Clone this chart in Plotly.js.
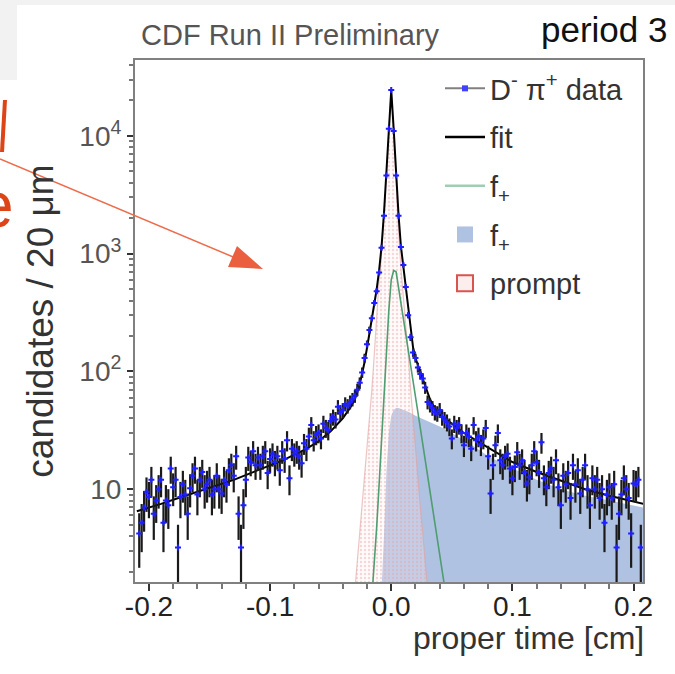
<!DOCTYPE html>
<html>
<head>
<meta charset="utf-8">
<script src="https://cdn.plot.ly/plotly-3.0.1.min.js"></script>
<style>
html,body{margin:0;padding:0;background:#ffffff;}
#chart{width:675px;height:674px;}
</style>
</head>
<body>
<div id="chart"></div>
<script>
// ---- data: proper-time bins (cm) and candidates per 20 um ----
const binCenters = [
-0.208,-0.206,-0.204,-0.202,-0.200,-0.198,-0.196,-0.194,-0.192,-0.190,
-0.188,-0.186,-0.184,-0.182,-0.180,-0.178,-0.176,-0.174,-0.172,-0.170,
-0.168,-0.166,-0.164,-0.162,-0.160,-0.158,-0.156,-0.154,-0.152,-0.150,
-0.148,-0.146,-0.144,-0.142,-0.140,-0.138,-0.136,-0.134,-0.132,-0.130,
-0.128,-0.126,-0.124,-0.122,-0.120,-0.118,-0.116,-0.114,-0.112,-0.110,
-0.108,-0.106,-0.104,-0.102,-0.100,-0.098,-0.096,-0.094,-0.092,-0.090,
-0.088,-0.086,-0.084,-0.082,-0.080,-0.078,-0.076,-0.074,-0.072,-0.070,
-0.068,-0.066,-0.064,-0.062,-0.060,-0.058,-0.056,-0.054,-0.052,-0.050,
-0.048,-0.046,-0.044,-0.042,-0.040,-0.038,-0.036,-0.034,-0.032,-0.030,
-0.028,-0.026,-0.024,-0.022,-0.020,-0.018,-0.016,-0.014,-0.012,-0.010,
-0.008,-0.006,-0.004,-0.002,0.000,0.002,0.004,0.006,0.008,0.010,
0.012,0.014,0.016,0.018,0.020,0.022,0.024,0.026,0.028,0.030,
0.032,0.034,0.036,0.038,0.040,0.042,0.044,0.046,0.048,0.050,
0.052,0.054,0.056,0.058,0.060,0.062,0.064,0.066,0.068,0.070,
0.072,0.074,0.076,0.078,0.080,0.082,0.084,0.086,0.088,0.090,
0.092,0.094,0.096,0.098,0.100,0.102,0.104,0.106,0.108,0.110,
0.112,0.114,0.116,0.118,0.120,0.122,0.124,0.126,0.128,0.130,
0.132,0.134,0.136,0.138,0.140,0.142,0.144,0.146,0.148,0.150,
0.152,0.154,0.156,0.158,0.160,0.162,0.164,0.166,0.168,0.170,
0.172,0.174,0.176,0.178,0.180,0.182,0.184,0.186,0.188,0.190,
0.192,0.194,0.196,0.198,0.200,0.202,0.204,0.206
];
const counts = [
4.2,5.2,7.0,9.5,8.6,12,6.2,8,10,12,
5.2,8,7.3,15,10.4,12,3.2,8.6,11,9,
6.2,10.2,13,15,9,12,14,10,11,12,
9,10,13,10,9.2,12,11,14.5,16,13,
19,6.2,3.2,7.3,12,18.6,17,21,16,18.6,
16,19,21,13.7,18,20,17,19,14.5,21,
18,26,12.4,22,20,21,19,16.6,24.5,22,
28,35,26,29,30,27,36,33,31.6,38,
41,39,50,45,47,53,51,55,58,62,
70,80,98,130,170,225,283,380,480,690,
1120,2100,4600,11500,24500,11000,4600,2100,1140,800,
520,300,195,145,130,108,95,87,73,55,
52,49,45,44,47,41,39,37,34,27,
36,33,35,30,23.6,30,28,22,35,26,
28,24,27,33,19,9.2,16,23.6,30,17.6,
16,19,20,15,12.4,15.4,20.6,16,17.6,14,
11.2,12.6,16,21,17,14,25,12.4,10.4,13.7,
15,12,17.6,10.4,7.3,13,11,13.7,8.4,16,
11,14.5,9.2,12,16,10,7.3,12.4,10,12,
8.4,10,5.2,9,10.4,8.4,11,3.2,6.2,9,
12.4,10,8.4,4.2,11.2,11,12,3.2
];

// total fit curve
const fitX = [-0.21,-0.19,-0.17,-0.15,-0.13,-0.11,-0.09,-0.07,-0.06,-0.05,-0.04,-0.034,-0.03,-0.026,-0.022,-0.018,-0.014,-0.012,-0.010,-0.008,-0.006,-0.004,-0.002,0.000,0.002,0.004,0.006,0.008,0.010,0.012,0.014,0.016,0.018,0.020,0.024,0.028,0.032,0.036,0.040,0.050,0.060,0.070,0.080,0.090,0.100,0.120,0.140,0.160,0.180,0.200,0.208];
const fitY = [6.5,7.5,8.8,10.2,12,14.5,17.5,22,25.5,31,40,49,58,78,120,210,370,500,720,1150,2200,4800,11500,24500,11500,4700,2150,1150,760,520,330,215,160,130,98,75,58,48,43,36,30,26,22.5,19.5,17,14,11.8,10,8.8,7.8,7.5];

// f+ (line component)
const fPlusLineX = [-0.016,-0.014,-0.012,-0.010,-0.008,-0.006,-0.004,-0.002,0.000,0.002,0.004,0.006,0.008,0.010,0.012,0.014,0.016,0.018,0.020,0.022,0.024,0.026,0.028,0.030,0.032,0.034,0.036,0.038,0.040,0.042,0.044,0.046];
const fPlusLineY = [1.2,2.3,4.8,11,27,65,150,330,600,720,700,520,390,290,215,160,120,88,62,45,33,24,18,13,9.6,7,5.1,3.7,2.7,2.0,1.5,1.1];

// f+ (filled component)
const fPlusFillX = [-0.010,-0.008,-0.006,-0.004,-0.002,0.000,0.002,0.004,0.006,0.008,0.010,0.015,0.020,0.030,0.040,0.050,0.060,0.070,0.080,0.090,0.100,0.120,0.140,0.160,0.180,0.200,0.208];
const fPlusFillY = [0.9,1.4,4,14,30,42,47,49,49,48,47,45,42,38,34,30,26,22.5,19,17,15,12,10,8.8,8,7.3,7.0];

// prompt component
const promptX = [-0.032,-0.030,-0.028,-0.026,-0.024,-0.022,-0.020,-0.018,-0.016,-0.014,-0.012,-0.010,-0.008,-0.006,-0.004,-0.002,0.000,0.002,0.004,0.006,0.008,0.010,0.012,0.014,0.016,0.018,0.020,0.022,0.024,0.026,0.028,0.030,0.032];
const promptY = [0.8,1.4,2.4,4.2,7,12,21,38,70,140,300,600,1000,2000,4400,11000,24000,11000,4000,1600,750,450,260,140,70,38,21,12,7,4.2,2.4,1.4,0.8];

const xTickVals = [-0.2,-0.1,0,0.1,0.2];
const xTickText = ['-0.2','-0.1','0.0','0.1','0.2'];
const yTickVals = [10,100,1000,10000];
const yTickText = ['10','10<sup>2</sup>','10<sup>3</sup>','10<sup>4</sup>'];
const legendNames = ['D<sup>-</sup> \u03c0<sup>+</sup> data','fit','f<sub>+</sub>','f<sub>+</sub>','prompt'];

// ---- layout helpers (pixel -> paper) ----
const M = {l:135, r:32, t:60, b:92};
const PW = 675 - M.l - M.r, PH = 674 - M.t - M.b;
const px2x = px => (px - M.l) / PW;
const py2y = py => 1 - (py - M.t) / PH;

const FONT = 'Liberation Sans, Arial, Helvetica, sans-serif';

const traces = [
  { // f+ filled
    x: fPlusFillX, y: fPlusFillY, type:'scatter', mode:'lines',
    fill:'tozeroy', fillcolor:'#b0c2e2', line:{width:0, color:'#b0c2e2'},
    showlegend:false, hoverinfo:'skip'
  },
  { // prompt
    x: promptX, y: promptY, type:'scatter', mode:'lines',
    fill:'tozeroy', fillcolor:'rgba(255,240,240,0.2)',
    fillpattern:{shape:'.', fgcolor:'rgba(232,160,160,0.4)', bgcolor:'rgba(255,240,240,0.25)', size:4, solidity:0.3},
    line:{color:'rgba(225,160,160,0.6)', width:1.2},
    showlegend:false, hoverinfo:'skip'
  },
  { // f+ line
    x: fPlusLineX, y: fPlusLineY, type:'scatter', mode:'lines',
    line:{color:'#4f9d70', width:1.6}, showlegend:false, hoverinfo:'skip'
  },
  { // fit
    x: fitX, y: fitY, type:'scatter', mode:'lines',
    line:{color:'#000000', width:2}, showlegend:false, hoverinfo:'skip'
  },
  { // data
    x: binCenters, y: counts, type:'scatter', mode:'markers',
    marker:{symbol:'cross', size:5, color:'#1e1eff'},
    error_y:{type:'sqrt', color:'#1a1a1a', thickness:2.2, width:0},
    showlegend:false, hoverinfo:'skip'
  },
  // legend entries
  { x:[null], y:[null], type:'scatter', mode:'lines+markers', name:legendNames[0], legendgroup:'a',
    line:{color:'#808080', width:2}, marker:{symbol:'square', size:6, color:'#4040ff'} },
  { x:[null], y:[null], type:'scatter', mode:'lines', name:legendNames[1], legendgroup:'b',
    line:{color:'#000000', width:2.5} },
  { x:[null], y:[null], type:'scatter', mode:'lines', name:legendNames[2], legendgroup:'c',
    line:{color:'#9fcdb3', width:2.5} },
  { x:[null], y:[null], type:'scatter', mode:'markers', name:legendNames[3], legendgroup:'d',
    marker:{symbol:'square', size:30, color:'#b0c2e2'} },
  { x:[null], y:[null], type:'scatter', mode:'markers', name:legendNames[4], legendgroup:'e',
    marker:{symbol:'square', size:30, color:'#fdeeee', line:{color:'#d9534f', width:2}} }
];

const layout = {
  width:675, height:674,
  margin:{l:M.l, r:M.r, t:M.t, b:M.b, pad:0},
  paper_bgcolor:'#ffffff', plot_bgcolor:'#ffffff',
  font:{family:FONT, color:'#333'},
  showlegend:true,
  legend:{x:px2x(440), y:py2y(63), xanchor:'left', yanchor:'top', itemwidth:40,
          bgcolor:'rgba(0,0,0,0)', font:{size:29, color:'#333', family:FONT},
          traceorder:'grouped', tracegroupgap:8},
  xaxis:{
    range:[-0.2115, 0.2078], tickmode:'array', tickvals:xTickVals, ticktext:xTickText,
    ticks:'outside', ticklen:7, tickwidth:2, tickcolor:'#333', ticklabelstandoff:-9,
    minor:{tickmode:'linear', tick0:0, dtick:0.02, ticks:'outside', ticklen:5, tickwidth:2, tickcolor:'#777', showgrid:false},
    showline:true, linewidth:2, linecolor:'#808080', mirror:true,
    showgrid:false, zeroline:false,
    tickfont:{size:28, color:'#222', family:FONT}
  },
  yaxis:{
    type:'log', range:[0.212, 4.644], tickmode:'array', tickvals:yTickVals, ticktext:yTickText,
    ticks:'outside', ticklen:6, tickwidth:2, tickcolor:'#333',
    minor:{ticks:'outside', ticklen:4, tickwidth:2, tickcolor:'#777', showgrid:false, dtick:'D1'},
    showline:true, linewidth:2, linecolor:'#808080', mirror:true,
    showgrid:false, zeroline:false,
    tickfont:{size:28, color:'#555', family:FONT},
    title:{text:'candidates / 20 \u03bcm', font:{size:37, color:'#333', family:FONT}, standoff:14}
  },
  annotations:[
    {text:'CDF Run II Preliminary', xref:'paper', yref:'paper', x:px2x(139), y:py2y(35),
     xanchor:'left', yanchor:'middle', showarrow:false, font:{size:29, color:'#555', family:FONT}},
    {text:'period 3', xref:'paper', yref:'paper', x:px2x(669), y:py2y(30),
     xanchor:'right', yanchor:'middle', showarrow:false, font:{size:35, color:'#111', family:FONT}},
    {text:'proper time [cm]', xref:'paper', yref:'paper', x:px2x(646), y:py2y(638),
     xanchor:'right', yanchor:'middle', showarrow:false, font:{size:32, color:'#333', family:FONT}},
    {text:'e', xref:'paper', yref:'paper', x:px2x(16), y:py2y(205),
     xanchor:'right', yanchor:'middle', showarrow:false, font:{size:64, color:'#dd4418', family:FONT}}
  ],
  shapes:[
    {type:'rect', xref:'paper', yref:'paper', layer:'below', x0:px2x(0), x1:px2x(675), y0:py2y(0), y1:py2y(5),
     fillcolor:'#f2f2f2', line:{width:0}},
    {type:'rect', xref:'paper', yref:'paper', layer:'below', x0:px2x(0), x1:px2x(17), y0:py2y(0), y1:py2y(80),
     fillcolor:'#f2f2f2', line:{width:0}},
    {type:'line', xref:'paper', yref:'paper', x0:px2x(5), y0:py2y(100), x1:px2x(2), y1:py2y(152),
     line:{color:'#dd4418', width:4}},
    {type:'line', xref:'paper', yref:'paper', x0:px2x(0), y0:py2y(159), x1:px2x(238), y1:py2y(259),
     line:{color:'#ee6a4a', width:1.5}},
    {type:'path', xref:'paper', yref:'paper',
     path:'M'+px2x(263)+','+py2y(269)+' L'+px2x(237)+','+py2y(246)+' L'+px2x(228)+','+py2y(267)+' Z',
     fillcolor:'#ea5f40', line:{width:0}}
  ]
};

Plotly.newPlot('chart', traces, layout, {staticPlot:true, displayModeBar:false});
</script>
</body>
</html>
